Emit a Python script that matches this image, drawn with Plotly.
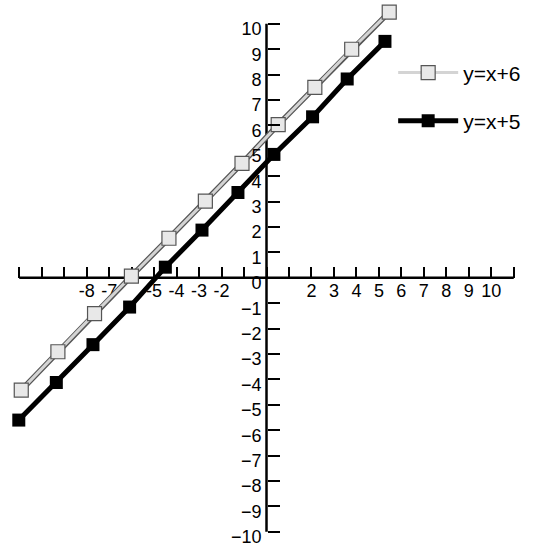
import plotly.graph_objects as go

# values (on the drawn axes)
x_a = [-10.91, -9.28, -7.65, -6.01, -4.34, -2.72, -1.09, 0.52, 2.15, 3.79, 5.46]
y_a = [-4.42, -2.91, -1.41, 0.07, 1.56, 3.02, 4.51, 6.03, 7.50, 9.00, 10.46]
x_b = [-11.02, -9.35, -7.72, -6.09, -4.50, -2.87, -1.27, 0.33, 2.05, 3.59, 5.27]
y_b = [-5.60, -4.12, -2.63, -1.15, 0.42, 1.88, 3.36, 4.86, 6.34, 7.83, 9.31]

x_ticks = list(range(-11, 12))
x_labels = ["-8", "-7", "-5", "-4", "-3", "-2", "2", "3", "4", "5", "6", "7", "8", "9", "10"]
y_ticks = list(range(-10, 11))

font = "Liberation Sans, Arial, sans-serif"

fig = go.Figure()

# outline of the light line
fig.add_trace(go.Scatter(
    x=x_a, y=y_a, mode="lines",
    line=dict(color="#555555", width=5.5),
    showlegend=False, hoverinfo="skip", legendgroup="a0"
))
fig.add_trace(go.Scatter(
    x=x_a, y=y_a, mode="lines+markers", name="y=x+6",
    line=dict(color="#d4d4d4", width=3),
    marker=dict(symbol="square", size=14, color="#e8e8e8",
                line=dict(color="#555555", width=1.2)),
    legendgroup="a", cliponaxis=False
))
fig.add_trace(go.Scatter(
    x=x_b, y=y_b, mode="lines+markers", name="y=x+5",
    line=dict(color="black", width=5),
    marker=dict(symbol="square", size=13, color="black"),
    legendgroup="b", cliponaxis=False
))

# axis lines crossing at the origin
fig.add_shape(type="line", x0=-11, x1=11, y0=0, y1=0, xref="x", yref="y",
              line=dict(color="black", width=2.5), layer="below")
fig.add_shape(type="line", x0=0, x1=0, y0=-10, y1=10, xref="x", yref="y",
              line=dict(color="black", width=2.5), layer="below")

label_map = {int(s): s for s in x_labels}
fig.update_layout(
    width=535, height=548,
    margin=dict(l=8, r=10, t=1, b=4),
    plot_bgcolor="white", paper_bgcolor="white",
    font=dict(family=font, size=18, color="black"),
    showlegend=True,
    legend=dict(x=0.745, y=0.905, xanchor="left", yanchor="top",
                font=dict(size=21), itemwidth=60, tracegroupgap=18,
                bgcolor="rgba(0,0,0,0)"),
    xaxis=dict(
        range=[-11.5, 11.5], showgrid=False, zeroline=False, showline=False,
        anchor="free", position=(0 + 10.4) / 21.3,
        tickmode="array", tickvals=x_ticks,
        ticktext=[label_map.get(v, "") for v in x_ticks],
        ticks="inside", ticklen=11, tickwidth=2, tickcolor="black",
        layer="below traces",
    ),
    yaxis=dict(
        range=[-10.4, 10.9], showgrid=False, zeroline=False, showline=False,
        anchor="free", position=11.5 / 23,
        tickmode="array", tickvals=y_ticks,
        ticks="inside", ticklen=12, tickwidth=2, tickcolor="black",
        ticklabelshift=5, ticklabelstandoff=5, ticklabeloverflow="allow",
    ),
)

fig.write_html("out.html", config={"displayModeBar": False},
               post_script="document.body.style.margin='0px';")
